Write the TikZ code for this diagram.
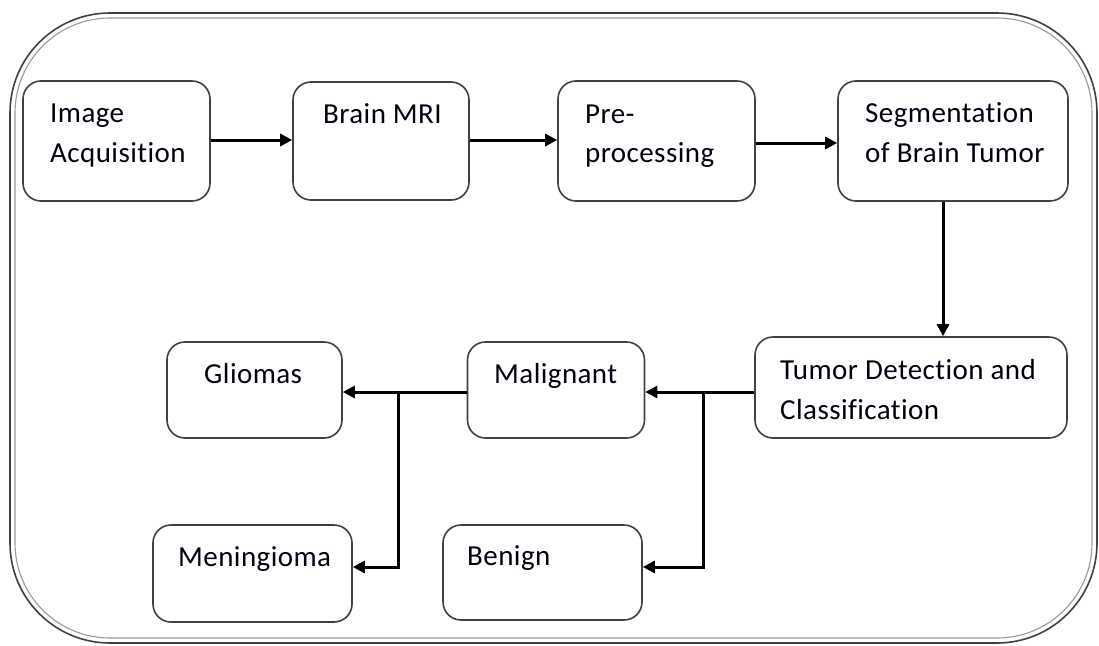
\documentclass[tikz,border=0pt]{standalone}
\usepackage{fontspec}
\setmainfont[Ligatures=NoCommon,LetterSpace=1.5]{Carlito}
\usetikzlibrary{arrows.meta}
\begin{document}
\begin{tikzpicture}[x=1pt,y=-1pt,
  box/.style={draw=black!75,line width=1.6pt,rounded corners=18pt},
  lbl/.style={anchor=base west,inner sep=0pt,text=black!94!blue,font=\fontsize{29}{40}\selectfont},
  conn/.style={line width=3pt,-{Triangle[length=12pt,width=12pt]}}]
\useasboundingbox (0,0) rectangle (1099,645);
% outer double frame
\draw[black!75,line width=1.6pt,rounded corners=100pt] (10,13) rectangle (1097,643);
\draw[black!40,line width=1.1pt,rounded corners=95pt] (15,18) rectangle (1092,638);
% boxes
\node[box,minimum width=187pt,minimum height=120pt] (ia) at (116.5,141) {};
\node[box,minimum width=176pt,minimum height=118pt] (mri) at (381,141) {};
\node[box,minimum width=197pt,minimum height=120pt] (pre) at (656.5,141) {};
\node[box,minimum width=230pt,minimum height=120pt] (seg) at (953,141) {};
\node[box,minimum width=312pt,minimum height=101pt] (td) at (911,387.5) {};
\node[box,minimum width=177pt,minimum height=96pt] (mal) at (556,390) {};
\node[box,minimum width=175pt,minimum height=96pt] (gli) at (254.5,390) {};
\node[box,minimum width=199pt,minimum height=97pt] (men) at (252.5,573.5) {};
\node[box,minimum width=199pt,minimum height=95pt] (ben) at (542.5,572.5) {};
% labels
\node[lbl] (tia1) at (50,122) {Image};
\node[lbl] (tia2) at (50,162) {Acquisition};
\node[lbl] (tmri) at (323,123) {Brain MRI};
\node[lbl] (tpre1) at (585,123) {Pre-};
\node[lbl] (tpre2) at (585,162) {processing};
\node[lbl] (tseg1) at (865,122) {Segmentation};
\node[lbl] (tseg2) at (865,162) {of Brain Tumor};
\node[lbl] (ttd1) at (780,379) {Tumor Detection and};
\node[lbl] (ttd2) at (780,419) {Classification};
\node[lbl] (tmal) at (494,383) {Malignant};
\node[lbl] (tgli) at (204,383) {Gliomas};
\node[lbl] (tmen) at (178,566) {Meningioma};
\node[lbl] (tben) at (467,565) {Benign};
% connectors
\coordinate (j1) at (703,392);
\coordinate (j2) at (398,392);
\draw[conn] (ia.east |- 0,140) -- (mri.west |- 0,140);
\draw[conn] (mri.east |- 0,140) -- (pre.west |- 0,140);
\draw[conn] (pre.east |- 0,143) -- (seg.west |- 0,143);
\draw[conn] (seg.south -| 943,0) -- (td.north -| 943,0);
\draw[conn] (td.west |- j1) -- (mal.east |- j1);
\draw[conn] (j1) |- (ben.east |- 0,567);
\draw[conn] (mal.west |- j2) -- (gli.east |- j2);
\draw[conn] (j2) |- (men.east |- 0,567);
\end{tikzpicture}
\end{document}
